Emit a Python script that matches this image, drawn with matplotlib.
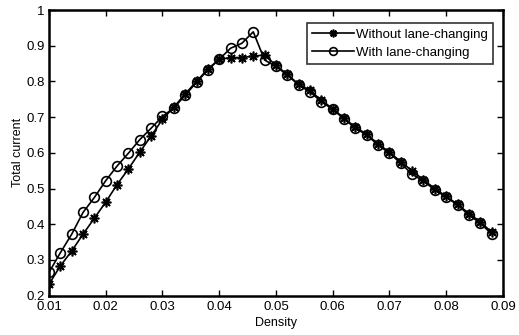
import numpy as np
from matplotlib import pyplot as plt

plt.rcParams['font.family'] = ['Liberation Sans', 'DejaVu Sans']

# density values (step 0.002)
density = np.round(np.arange(0.010, 0.0881, 0.002), 3)

# total current, without lane-changing (asterisks)
current_without = [0.232, 0.283, 0.325, 0.372, 0.417, 0.462, 0.511, 0.555, 0.602, 0.647,
                   0.694, 0.728, 0.765, 0.800, 0.835, 0.862, 0.867, 0.867, 0.871, 0.874,
                   0.845, 0.820, 0.792, 0.775, 0.747, 0.724, 0.697, 0.672, 0.652, 0.625,
                   0.602, 0.575, 0.550, 0.524, 0.500, 0.478, 0.456, 0.430, 0.407, 0.378]

# total current, with lane-changing (circles)
current_with = [0.265, 0.320, 0.372, 0.433, 0.475, 0.522, 0.563, 0.599, 0.637, 0.669,
                0.702, 0.726, 0.761, 0.798, 0.832, 0.862, 0.893, 0.907, 0.939, 0.860,
                0.842, 0.818, 0.790, 0.771, 0.743, 0.722, 0.695, 0.669, 0.650, 0.622,
                0.599, 0.571, 0.540, 0.521, 0.496, 0.476, 0.454, 0.426, 0.403, 0.373]

xticks = [0.01, 0.02, 0.03, 0.04, 0.05, 0.06, 0.07, 0.08, 0.09]
yticks = [0.2, 0.3, 0.4, 0.5, 0.6, 0.7, 0.8, 0.9, 1.0]

fig = plt.figure(figsize=(5.19, 3.35), dpi=100)
ax = fig.add_axes([0.0944, 0.1176, 0.8746, 0.8524])

ax.plot(density, current_without, color='black', lw=1.2, marker=(8, 2, 0),
        markersize=7, markeredgewidth=1.2, label='Without lane-changing')
ax.plot(density, current_with, color='black', lw=1.2, marker='o',
        markersize=7, markerfacecolor='none', markeredgewidth=1.2,
        label='With lane-changing')

ax.set_xlim(0.01, 0.09)
ax.set_ylim(0.2, 1.0)
ax.set_xticks(xticks)
ax.set_yticks(yticks)
ax.set_xticklabels(['0.01', '0.02', '0.03', '0.04', '0.05', '0.06', '0.07', '0.08', '0.09'])
ax.set_yticklabels(['0.2', '0.3', '0.4', '0.5', '0.6', '0.7', '0.8', '0.9', '1'])
ax.tick_params(direction='in', top=True, right=True, labelsize=9.5, length=4,
               width=1.0)
ax.tick_params(axis='x', pad=4)
ax.tick_params(axis='y', pad=3)
for s in ax.spines.values():
    s.set_linewidth(1.8)

ax.set_xlabel('Density', fontsize=9, labelpad=3)
ax.set_ylabel('Total current', fontsize=9, labelpad=2)

leg = ax.legend(loc='upper left', bbox_to_anchor=(0.568, 0.954), fontsize=9.5,
                frameon=True, fancybox=False, edgecolor='black', borderpad=0.4,
                handlelength=3.2, handletextpad=0.1, labelspacing=0.45,
                borderaxespad=0.0, markerscale=0.8)
leg.get_frame().set_linewidth(1.2)

fig.savefig('out.png', dpi=100)
